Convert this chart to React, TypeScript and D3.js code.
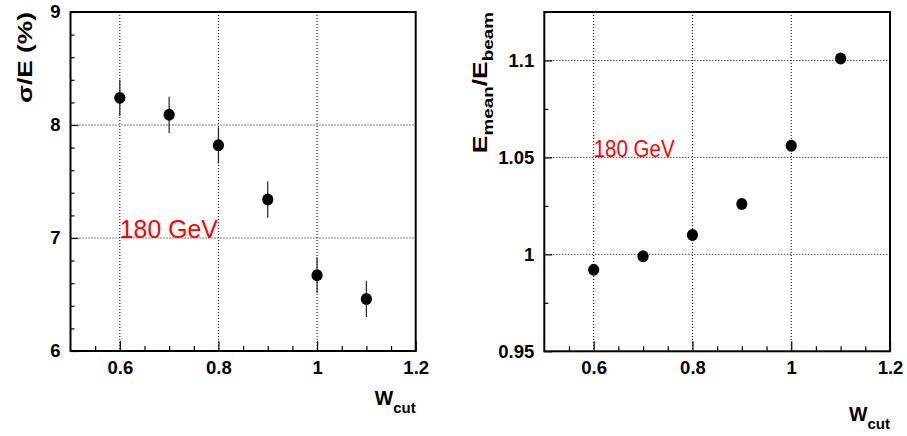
import { useEffect, useRef } from "react";
import * as d3 from "d3";

// W_cut values shared by both panels
const wcut = [0.6, 0.7, 0.8, 0.9, 1.0, 1.1];

// left panel: resolution sigma/E in %
const sigmaE = [8.24, 8.09, 7.82, 7.34, 6.67, 6.46];
const sigmaErr = [0.16, 0.16, 0.16, 0.16, 0.16, 0.16];

// right panel: E_mean / E_beam
const eRatio = [0.992, 0.999, 1.01, 1.026, 1.056, 1.101];
const eRatioErr = [0, 0, 0, 0, 0, 0];

const xTicks = [0.6, 0.8, 1.0, 1.2];
const xMinor = [0.55, 0.65, 0.7, 0.75, 0.85, 0.9, 0.95, 1.05, 1.1, 1.15];
const leftYTicks = [6, 7, 8, 9];
const leftYMinor = [6.2, 6.4, 6.6, 6.8, 7.2, 7.4, 7.6, 7.8, 8.2, 8.4, 8.6, 8.8];
const rightYTicks = [0.95, 1.0, 1.05, 1.1];
const rightYMinor = [0.975, 1.025, 1.075, 1.125];

const FONT = "'Liberation Sans', Arial, Helvetica, sans-serif";

function drawPanel(svg, opts) {
  const { left, right, top, bottom, xDomain, yDomain, xs, ys, errs,
    yTicks, yMinor, label, titleX, titleY } = opts;

  const x = d3.scaleLinear().domain(xDomain).range([left, right]);
  const y = d3.scaleLinear().domain(yDomain).range([bottom, top]);
  const g = svg.append("g");

  // dotted grid at the major ticks
  const grid = g.append("g").attr("stroke", "#000").attr("stroke-width", 1)
    .attr("stroke-dasharray", "1,2");
  grid.selectAll(".gx").data(xTicks.filter((t) => t < xDomain[1]))
    .enter().append("line")
    .attr("x1", (d) => x(d)).attr("x2", (d) => x(d))
    .attr("y1", top).attr("y2", bottom);
  grid.selectAll(".gy").data(yTicks.filter((t) => t > yDomain[0] && t < yDomain[1]))
    .enter().append("line")
    .attr("x1", left).attr("x2", right)
    .attr("y1", (d) => y(d)).attr("y2", (d) => y(d));

  // axes, ticks pointing inward
  const fmt = (d) => String(d);
  const xAxis = g.append("g").attr("transform", `translate(0,${bottom})`)
    .call(d3.axisBottom(x).tickValues(xTicks).tickSize(-10).tickPadding(10).tickFormat(fmt));
  xAxis.append("g").call(d3.axisBottom(x).tickValues(xMinor).tickSize(-5).tickFormat(() => ""));
  const yAxis = g.append("g").attr("transform", `translate(${left},0)`)
    .call(d3.axisLeft(y).tickValues(yTicks).tickSize(-8).tickPadding(10).tickFormat(fmt));
  yAxis.append("g").call(d3.axisLeft(y).tickValues(yMinor).tickSize(-4).tickFormat(() => ""));

  [xAxis, yAxis].forEach((a) => {
    a.selectAll(".domain").remove();
    a.selectAll("line").attr("stroke", "#000").attr("stroke-width", 1.2);
    a.selectAll("text").attr("font-family", FONT).attr("font-size", 18.5)
      .attr("font-weight", "bold").attr("fill", "#000");
  });

  // frame
  g.append("rect").attr("x", left).attr("y", top)
    .attr("width", right - left).attr("height", bottom - top)
    .attr("fill", "none").attr("stroke", "#000").attr("stroke-width", 2);

  // error bars and markers
  const pts = xs.map((v, i) => ({ x: v, y: ys[i], e: errs[i] }));
  g.selectAll(".err").data(pts.filter((p) => p.e > 0)).enter().append("line")
    .attr("x1", (d) => x(d.x)).attr("x2", (d) => x(d.x))
    .attr("y1", (d) => y(d.y - d.e)).attr("y2", (d) => y(d.y + d.e))
    .attr("stroke", "#222").attr("stroke-width", 1.2);
  g.selectAll(".pt").data(pts).enter().append("ellipse")
    .attr("cx", (d) => x(d.x)).attr("cy", (d) => y(d.y))
    .attr("rx", 5.6).attr("ry", 6).attr("fill", "#000");

  // red energy label, anchored at a data point
  g.append("text").attr("x", x(label.x)).attr("y", y(label.y))
    .attr("font-family", FONT).attr("font-size", label.size).attr("fill", "#ff0000")
    .attr("textLength", label.len).attr("lengthAdjust", "spacingAndGlyphs")
    .text("180 GeV");

  // x title W_cut
  const xt = g.append("text").attr("x", right).attr("y", titleX.y)
    .attr("text-anchor", "end").attr("font-family", FONT).attr("font-weight", "bold");
  xt.append("tspan").attr("font-size", 19.5).text("W");
  xt.append("tspan").attr("font-size", 15).attr("dy", 8).text("cut");

  // y title
  const yt = g.append("g")
    .attr("transform", `translate(${titleY.x},${top}) rotate(-90) scale(1.35,1)`)
    .append("text").attr("text-anchor", "end").attr("font-family", FONT)
    .attr("font-weight", "bold").attr("font-size", 19.5);
  titleY.parts.forEach((p) => {
    const t = yt.append("tspan").text(p.t);
    if (p.sub) t.attr("font-size", 14);
    if (p.dy) t.attr("dy", p.dy);
  });
}

export default function App() {
  const ref = useRef(null);

  useEffect(() => {
    const svg = d3.select(ref.current);
    svg.selectAll("*").remove();

    drawPanel(svg, {
      left: 70.5, right: 415.7, top: 12, bottom: 351,
      xDomain: [0.5, 1.2], yDomain: [6, 9],
      xs: wcut, ys: sigmaE, errs: sigmaErr,
      yTicks: leftYTicks, yMinor: leftYMinor,
      label: { x: 0.6, y: 7.0, size: 25, len: 98 },
      titleX: { y: 405 },
      titleY: { x: 32, parts: [{ t: "σ/E (%)" }] },
    });

    drawPanel(svg, {
      left: 544.3, right: 890, top: 12, bottom: 351.3,
      xDomain: [0.5, 1.2], yDomain: [0.95, 1.125],
      xs: wcut, ys: eRatio, errs: eRatioErr,
      yTicks: rightYTicks, yMinor: rightYMinor,
      label: { x: 0.6, y: 1.05, size: 23, len: 81 },
      titleX: { y: 421 },
      titleY: {
        x: 487,
        parts: [
          { t: "E" }, { t: "mean", sub: true, dy: 6 },
          { t: "/E", dy: -6 }, { t: "beam", sub: true, dy: 6 },
        ],
      },
    });
  }, []);

  return (
    <svg ref={ref} width={907} height={436}
      style={{ position: "absolute", left: 0, top: 0, background: "#fff" }} />
  );
}
